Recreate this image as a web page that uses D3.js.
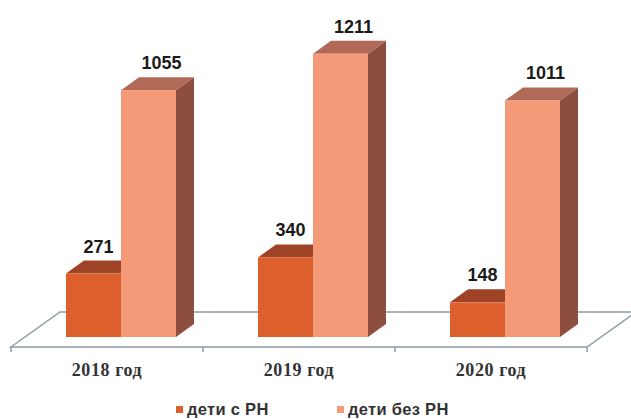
<!DOCTYPE html>
<html>
<head>
<meta charset="utf-8">
<script src="https://cdn.jsdelivr.net/npm/d3@7"></script>
<style>
  body { margin: 0; background: #fff; }
  svg { display: block; }
</style>
</head>
<body>
<div id="chart"></div>
<script>
var years = ["2018 год", "2019 год", "2020 год"]
var series = ["дети с РН", "дети без РН"]
var withRN = [271, 340, 148]
var withoutRN = [1055, 1211, 1011]

var width = 631
var height = 419
var depth = {dx: 18, dy: -13}     // bar depth (oblique)
var floorDepth = {dx: 49, dy: -35}

// colours: front, top, side
var colors = [
    {front: "#DD5F2C", top: "#9E4325", side: "#8E3E24"},
    {front: "#F59A78", top: "#B06A57", side: "#8C4E3F"}
]

var svg = d3.select("#chart")
    .append("svg")
        .attr("width", width)
        .attr("height", height)

var x0 = d3.scaleBand()
    .domain(years)
    .range([11, 587])

var x1 = d3.scaleBand()
    .domain(series)
    .range([55, 165])

var y = d3.scaleLinear()
    .domain([0, 1000])
    .range([337, 103])

var floorY = 347

//// floor ////
var fl = x0.range()[0], fr = x0.range()[1]
svg.append("polygon")
    .attr("points", [
        [fl, floorY],
        [fl + floorDepth.dx, floorY + floorDepth.dy],
        [fr + floorDepth.dx, floorY + floorDepth.dy],
        [fr, floorY]
    ].map(p => p.join(",")).join(" "))
    .style("fill", "#fff")
    .style("stroke", "#8C9CA3")
    .style("stroke-width", 1.5)

// category ticks
svg.append("g")
    .selectAll("line")
    .data(years.map(d => x0(d)).concat([fr]))
    .enter()
    .append("line")
        .attr("x1", d => d)
        .attr("x2", d => d)
        .attr("y1", floorY)
        .attr("y2", floorY + 5)
        .style("stroke", "#8C9CA3")
        .style("stroke-width", 1.5)

//// bars ////
var data = []
years.forEach(function(yr, i){
    data.push({year: yr, s: 0, v: withRN[i]})
    data.push({year: yr, s: 1, v: withoutRN[i]})
})

function pts(arr){ return arr.map(p => p.join(",")).join(" ") }

var bars = svg.append("g")
    .selectAll("g")
    .data(data)
    .enter()
    .append("g")

bars.each(function(d){
    var g = d3.select(this)
    var xl = x0(d.year) + x1(series[d.s])
    var xr = xl + x1.bandwidth()
    var yt = y(d.v)
    var yb = y(0)
    var c = colors[d.s]
    // side
    g.append("polygon")
        .attr("points", pts([[xr, yb], [xr, yt], [xr + depth.dx, yt + depth.dy], [xr + depth.dx, yb + depth.dy]]))
        .style("fill", c.side)
    // top
    g.append("polygon")
        .attr("points", pts([[xl, yt], [xl + depth.dx, yt + depth.dy], [xr + depth.dx, yt + depth.dy], [xr, yt]]))
        .style("fill", c.top)
    // front
    g.append("rect")
        .attr("x", xl)
        .attr("y", yt)
        .attr("width", x1.bandwidth())
        .attr("height", yb - yt)
        .style("fill", c.front)
})

// value labels
var labelShift = [5, 13]
svg.append("g")
    .selectAll("text")
    .data(data)
    .enter()
    .append("text")
        .attr("x", d => x0(d.year) + x1(series[d.s]) + x1.bandwidth() / 2 + labelShift[d.s])
        .attr("y", d => y(d.v) + depth.dy - 8)
        .attr("text-anchor", "middle")
        .style("font-family", "'Liberation Sans', Arial, sans-serif")
        .style("font-weight", "bold")
        .style("font-size", "18px")
        .style("fill", "#1a1a1a")
        .text(d => d.v)

// category labels
svg.append("g")
    .selectAll("text")
    .data(years)
    .enter()
    .append("text")
        .attr("x", d => x0(d) + x0.bandwidth() / 2)
        .attr("y", 376)
        .attr("text-anchor", "middle")
        .style("font-family", "'Liberation Serif', 'Times New Roman', serif")
        .style("font-weight", "bold")
        .style("font-size", "18px")
        .style("letter-spacing", "0.6px")
        .style("fill", "#333")
        .text(d => d)

//// legend ////
var legendX = [176, 337]
var legend = svg.append("g")
    .selectAll("g")
    .data(series)
    .enter()
    .append("g")
        .attr("transform", (d, i) => "translate(" + legendX[i] + ",406)")

legend.append("rect")
    .attr("width", 7)
    .attr("height", 7)
    .style("fill", (d, i) => colors[i].front)

legend.append("text")
    .attr("x", 11)
    .attr("y", 9)
    .style("font-family", "'Liberation Sans', Arial, sans-serif")
    .style("font-weight", "bold")
    .style("font-size", "16.5px")
    .style("letter-spacing", "0.3px")
    .style("fill", "#333")
    .text(d => d)
</script>
</body>
</html>
